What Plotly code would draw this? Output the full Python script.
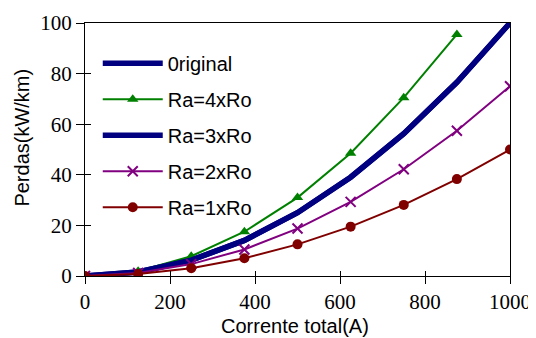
import plotly.graph_objects as go

corrente = [0, 125, 250, 375, 500, 625, 750, 875, 1000]
original = [0, 1.56, 6.25, 14.06, 25.0, 39.06, 56.25, 76.56, 100.0]
ra4 = [0, 1.9, 7.8, 17.5, 31.0, 48.5, 70.5, 95.5]
ra3 = [0, 1.56, 6.25, 14.06, 25.0, 39.06, 56.25, 76.56, 100.0]
ra2 = [0, 1.2, 4.7, 10.5, 18.75, 29.3, 42.2, 57.4, 75.0]
ra1 = [0, 0.78, 3.1, 7.0, 12.5, 19.5, 28.1, 38.3, 50.0]
x_ticks = [0, 200, 400, 600, 800, 1000]
y_ticks = [0, 20, 40, 60, 80, 100]

NAVY = "#000080"
GREEN = "#008000"
PURPLE = "#800080"
RED = "#800000"

fig = go.Figure()
fig.add_trace(go.Scatter(x=corrente, y=original, name="0riginal", mode="lines",
                         line=dict(color=NAVY, width=5.5), legendgroup="a"))
fig.add_trace(go.Scatter(x=corrente[:len(ra4)], y=ra4, name="Ra=4xRo", mode="lines+markers",
                         line=dict(color=GREEN, width=2),
                         marker=dict(symbol="triangle-up", size=10, color=GREEN), legendgroup="b"))
fig.add_trace(go.Scatter(x=corrente, y=ra3, name="Ra=3xRo", mode="lines",
                         line=dict(color=NAVY, width=5.5), legendgroup="c"))
fig.add_trace(go.Scatter(x=corrente, y=ra2, name="Ra=2xRo", mode="lines+markers",
                         line=dict(color=PURPLE, width=2),
                         marker=dict(symbol="x-thin", size=10, color=PURPLE,
                                     line=dict(color=PURPLE, width=2)), legendgroup="d"))
fig.add_trace(go.Scatter(x=corrente, y=ra1, name="Ra=1xRo", mode="lines+markers",
                         line=dict(color=RED, width=2),
                         marker=dict(symbol="circle", size=10, color=RED), legendgroup="e"))

# invisible overlay trace for inside ticks
fig.add_trace(go.Scatter(x=[0, 1000], y=[0, 100], xaxis="x2", yaxis="y2",
                         mode="markers", marker=dict(opacity=0), showlegend=False,
                         hoverinfo="skip"))

sansfont = dict(family="Liberation Sans", size=20, color="black")
seriffont = dict(family="Liberation Serif", size=21, color="black")

fig.update_layout(
    width=528, height=330,
    margin=dict(l=77, r=26, t=15, b=62, autoexpand=False),
    plot_bgcolor="white", paper_bgcolor="white",
    font=seriffont,
    showlegend=True,
    legend=dict(x=0.03, y=0.918, xanchor="left", yanchor="top",
                bgcolor="rgba(0,0,0,0)", font=sansfont,
                itemwidth=60, tracegroupgap=7, traceorder="grouped"),
    xaxis=dict(range=[0, 1000], tickvals=x_ticks, ticks="outside", ticklen=7,
               tickcolor="black", tickwidth=1.3, showgrid=False, zeroline=False,
               showline=True, linecolor="black", linewidth=1.3, mirror=True,
               tickfont=seriffont, automargin=False),
    yaxis=dict(range=[0, 100], tickvals=y_ticks, ticks="outside", ticklen=8,
               tickcolor="black", tickwidth=1.3, showgrid=False, zeroline=False,
               showline=True, linecolor="black", linewidth=1.3, mirror=True,
               tickfont=seriffont, automargin=False),
    xaxis2=dict(range=[0, 1000], tickvals=x_ticks, ticks="inside", ticklen=5,
                tickcolor="black", tickwidth=1.3, showticklabels=False,
                showgrid=False, zeroline=False, overlaying="x", side="bottom"),
    yaxis2=dict(range=[0, 100], tickvals=y_ticks, ticks="inside", ticklen=6,
                tickcolor="black", tickwidth=1.3, showticklabels=False,
                showgrid=False, zeroline=False, overlaying="y", side="left"),
    annotations=[
        dict(text="Corrente total(A)", xref="paper", yref="paper", x=0.495, y=0,
             xanchor="center", yanchor="middle", yshift=-50, showarrow=False,
             font=sansfont),
        dict(text="Perdas(kW/km)", xref="paper", yref="paper", x=0, y=0.547,
             xanchor="center", yanchor="middle", xshift=-63, textangle=-90,
             showarrow=False, font=sansfont),
    ],
)

fig.write_html("out.html")
